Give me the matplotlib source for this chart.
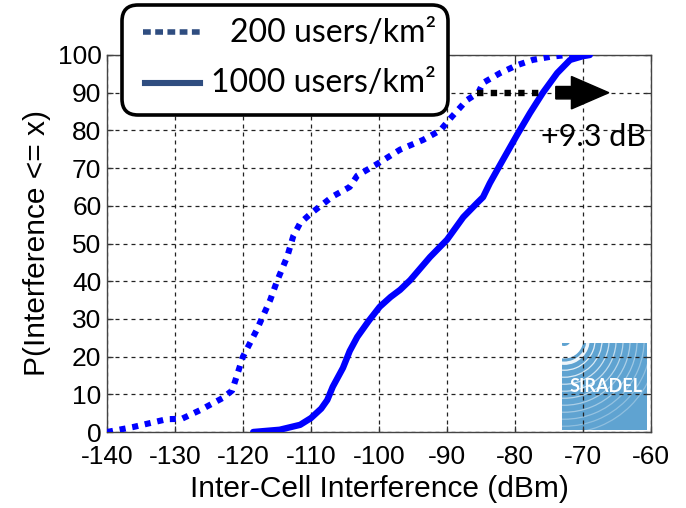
import numpy as np
import matplotlib
matplotlib.use("Agg")
import matplotlib.pyplot as plt
from matplotlib.patches import FancyBboxPatch, Rectangle, Arc, FancyArrow
from matplotlib.lines import Line2D
from matplotlib.transforms import IdentityTransform

plt.rcParams["axes.unicode_minus"] = False

# CDF of inter-cell interference, 200 users/km^2
x_200 = [-140, -136.2, -131.2, -129, -126.3, -123, -121.6, -120, -118, -116, -115,
         -113.5, -112.6, -111.6, -110, -106.8, -104.3, -103.2, -100, -96.9, -93.5,
         -91, -89.3, -87.1, -85.4, -84.7, -82.2, -79.7, -77.4, -74.9, -72.4, -69]
y_200 = [0, 1.3, 3.4, 3.5, 5.8, 9, 11, 20, 27, 35, 40,
         46.5, 52, 55.4, 58, 62.5, 65, 68, 71.4, 74.9, 77.5,
         80, 83.6, 88, 90, 92.6, 95.2, 97.3, 98.7, 99.5, 100, 100]

# CDF of inter-cell interference, 1000 users/km^2
x_1000 = [-118.5, -114.6, -111.6, -110, -108.5, -107.6, -106.8, -105.3, -104.3, -103.2,
          -101.5, -99.9, -98.3, -96.9, -95.4, -92.5, -90, -87.6, -85.6, -84.7, -83.7,
          -82.4, -79.7, -77.8, -75.9, -73.8, -71.9, -70, -69]
y_1000 = [0, 0.6, 1.9, 3.7, 6.2, 8.5, 12, 17, 21.5, 25.2,
          29.5, 33.2, 35.8, 37.7, 40.3, 46.4, 51, 57, 60.7, 62.3, 66,
          70.2, 78.8, 84.6, 90, 95.2, 98.7, 99.7, 100]

x_ticks = [-140, -130, -120, -110, -100, -90, -80, -70, -60]
y_ticks = [0, 10, 20, 30, 40, 50, 60, 70, 80, 90, 100]
series_labels = ["200 users/km\u00b2", "1000 users/km\u00b2"]

# shift at the 90th percentile
gain_level = 90
gain_start = -85.6
gain_db = 9.3
gain_label = "+9.3 dB"

W, H = 686, 508
fig = plt.figure(figsize=(W / 100, H / 100), dpi=100)
ax = fig.add_axes([107 / W, 1 - 432 / H, (651 - 107) / W, (432 - 55) / H])

TICK_FONT = "Liberation Sans"
NOTE_FONT = "Lato"
blue = "#0000ff"
navy = "#2f4d80"

ax.set_xlim(-140, -60)
ax.set_ylim(0, 100)
ax.set_xticks(x_ticks)
ax.set_yticks(y_ticks)
ax.set_xticklabels([str(v) for v in x_ticks], fontfamily=TICK_FONT, fontsize=19)
ax.set_yticklabels([str(v) for v in y_ticks], fontfamily=TICK_FONT, fontsize=19)
ax.tick_params(axis="both", direction="in", top=True, right=True, length=4,
               width=0.9, color="#333333")
ax.tick_params(axis="x", pad=9)
ax.tick_params(axis="y", pad=4)
ax.grid(True, color="#222222", linestyle=(0, (3.2, 3.2)), linewidth=0.9)
for s in ax.spines.values():
    s.set_linewidth(1.0)
    s.set_color("#444444")

ax.set_xlabel("Inter-Cell Interference (dBm)", fontfamily=TICK_FONT, fontsize=21.5,
              labelpad=5)
ax.set_ylabel("P(Interference <= x)", fontfamily=TICK_FONT, fontsize=21.5, labelpad=5)

# company logo in the lower right corner (under the grid)
lx0, lx1 = (562 - 107) / 544, (647 - 107) / 544
ly0, ly1 = (432 - 430) / 377, (432 - 343) / 377
logo = Rectangle((lx0, ly0), lx1 - lx0, ly1 - ly0, transform=ax.transAxes,
                 facecolor="#5fa3d1", edgecolor="none", zorder=1)
ax.add_patch(logo)
cx, cy = lx0 + 0.004, ly1 + 0.01
sx, sy = 1 / 544, 1 / 377
blob = Arc((cx, cy), 2 * 13 * sx, 2 * 13 * sy, transform=ax.transAxes,
           color="white", linewidth=9, zorder=1.2)
blob.set_clip_path(logo)
ax.add_patch(blob)
for i, r in enumerate(range(24, 96, 7)):
    a = Arc((cx, cy), 2 * r * sx, 2 * r * sy, transform=ax.transAxes,
            color="white", linewidth=0.9 if i else 2.4,
            alpha=max(0.3, 0.9 - 0.07 * i), zorder=1.2)
    a.set_clip_path(logo)
    ax.add_patch(a)
ax.text((lx0 + lx1) / 2 + 0.003, (432 - 387) / 377, "SIRADEL", transform=ax.transAxes,
        ha="center", va="center", color="white", fontfamily=NOTE_FONT,
        fontsize=13, fontweight="bold", zorder=1.3)

# the two CDF curves
ax.plot(x_200, y_200, color=blue, linewidth=4.4, linestyle=(0, (1.0, 1.1)),
        dash_capstyle="butt", zorder=3)
ax.plot(x_1000, y_1000, color=blue, linewidth=4.6, solid_capstyle="round",
        solid_joinstyle="round", zorder=3)

# shift arrow
gain_end = gain_start + gain_db
ax.plot([gain_start, gain_end], [gain_level, gain_level], color="black",
        linewidth=4.6, linestyle=(0, (1.0, 1.15)), dash_capstyle="butt", zorder=4)
ax.add_patch(FancyArrow(gain_end + 2.3, gain_level, 7.8, 0, width=3.3,
                        head_width=8.6, head_length=5.5, length_includes_head=True,
                        color="black", zorder=4, clip_on=False))
ax.text(gain_end + 0.1, 78.3, gain_label, fontfamily=NOTE_FONT, fontsize=22,
        va="center", ha="left", clip_on=False, zorder=4)

# legend box drawn in pixel coordinates
px = IdentityTransform()
box = FancyBboxPatch((122, H - 115), 326, 110, boxstyle="round,pad=0,rounding_size=16",
                     transform=px, facecolor="white", edgecolor="black",
                     linewidth=2.6, zorder=5)
fig.patches.append(box)
fig.lines.append(Line2D([143, 200], [H - 32, H - 32], transform=px, color=navy,
                        linewidth=4, linestyle=(0, (1.4, 0.8)), dash_capstyle="butt",
                        zorder=6))
fig.lines.append(Line2D([145, 200], [H - 83, H - 83], transform=px, color=navy,
                        linewidth=4.4, zorder=6))
fig.text(436 / W, 1 - 33 / H, series_labels[0], ha="right", va="center",
         fontfamily=NOTE_FONT, fontsize=23, zorder=6)
fig.text(436 / W, 1 - 83 / H, series_labels[1], ha="right", va="center",
         fontfamily=NOTE_FONT, fontsize=23, zorder=6)

fig.savefig("out.png", dpi=100)
